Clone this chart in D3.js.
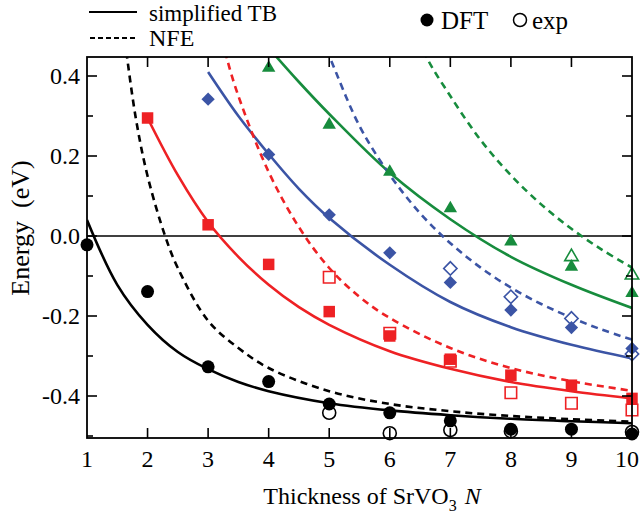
<!DOCTYPE html>
<html>
<head>
<meta charset="utf-8">
<script src="https://cdn.jsdelivr.net/npm/d3@7"></script>
<style>
  body { margin: 0; background: #fff; }
</style>
</head>
<body>
<div id="chart"></div>
<script>
// [N, energy in eV]

// DFT points (filled) and experiment (open)
let dftBlack = [[1, -0.022], [2, -0.139], [3, -0.327], [4, -0.364], [5, -0.42], [6, -0.442], [7, -0.462], [8, -0.483], [9, -0.483], [10, -0.495]]
let expBlack = [[5, -0.442], [6, -0.493], [7, -0.485], [8, -0.488], [10, -0.49]]
let dftRed = [[2, 0.295], [3, 0.028], [4, -0.071], [5, -0.189], [6, -0.25], [7, -0.308], [8, -0.348], [9, -0.373], [10, -0.406]]
let expRed = [[5, -0.103], [6, -0.243], [7, -0.313], [8, -0.392], [9, -0.418], [10, -0.435]]
let dftBlue = [[3, 0.342], [4, 0.204], [5, 0.053], [6, -0.042], [7, -0.116], [8, -0.185], [9, -0.229], [10, -0.281]]
let expBlue = [[7, -0.081], [8, -0.152], [9, -0.206], [10, -0.295]]
let dftGreen = [[4, 0.42], [5, 0.278], [6, 0.16], [7, 0.069], [8, -0.014], [9, -0.077], [10, -0.143]]
let expGreen = [[9, -0.052], [10, -0.098]]

// simplified TB curves (solid)
let tbBlack = [[1, 0.04], [1.5, -0.122], [2, -0.222], [2.5, -0.29], [3, -0.333], [3.5, -0.365], [4, -0.388], [5, -0.418], [6, -0.436], [7, -0.448], [8, -0.457], [9, -0.463], [10, -0.468]]
let tbRed = [[2, 0.295], [2.5, 0.152], [3, 0.035], [3.5, -0.052], [4, -0.122], [4.5, -0.178], [5, -0.222], [6, -0.288], [7, -0.332], [8, -0.365], [9, -0.388], [10, -0.406]]
let tbBlue = [[3, 0.41], [3.5, 0.3], [4, 0.205], [4.5, 0.118], [5, 0.045], [6, -0.072], [7, -0.165], [8, -0.228], [9, -0.272], [10, -0.306]]
let tbGreen = [[4, 0.47], [4.5, 0.385], [5, 0.305], [6, 0.158], [7, 0.042], [8, -0.052], [9, -0.122], [10, -0.18]]

// NFE curves (dashed)
let nfeBlack = [[1.6, 0.52], [1.8, 0.3], [2, 0.15], [2.29, 0.0], [2.5, -0.08], [3, -0.212], [3.5, -0.28], [4, -0.33], [5, -0.388], [6, -0.42], [7, -0.438], [8, -0.45], [9, -0.458], [10, -0.464]]
let nfeRed = [[3.2, 0.52], [3.3, 0.45], [3.5, 0.35], [4, 0.16], [4.5, 0.022], [5, -0.08], [5.5, -0.152], [6, -0.205], [7, -0.28], [8, -0.33], [9, -0.363], [10, -0.387]]
let nfeBlue = [[4.8, 0.52], [5, 0.45], [5.5, 0.275], [6, 0.153], [6.5, 0.057], [7, -0.018], [7.5, -0.079], [8, -0.129], [8.5, -0.17], [9, -0.204], [9.5, -0.234], [10, -0.259]]
let nfeGreen = [[6.45, 0.52], [6.6, 0.45], [7, 0.35], [7.5, 0.24], [8, 0.152], [8.5, 0.079], [9, 0.018], [9.5, -0.034], [10, -0.079]]

let xTicks = [1, 2, 3, 4, 5, 6, 7, 8, 9, 10]
let yMajor = [-0.4, -0.2, 0.0, 0.2, 0.4]
let yMinor = [-0.5, -0.3, -0.1, 0.1, 0.3]

let colors = { black: '#000000', red: '#ee2124', blue: '#3b54a5', green: '#178c3d' }
let serif = '"Liberation Serif", "DejaVu Serif", serif'

let width = 641
let height = 519
let plot = { left: 87, right: 632, top: 57, bottom: 438 }

let svg = d3
  .select('#chart')
  .append('svg')
  .attr('width', width)
  .attr('height', height)
  .style('font-family', serif)

let x = d3.scaleLinear().domain([1, 10]).range([plot.left, plot.right])
let y = d3.scaleLinear().domain([-0.505, 0.4475]).range([plot.bottom, plot.top])

svg
  .append('clipPath')
  .attr('id', 'clip')
  .append('rect')
  .attr('x', plot.left)
  .attr('y', plot.top)
  .attr('width', plot.right - plot.left)
  .attr('height', plot.bottom - plot.top)

// zero line
svg
  .append('line')
  .attr('x1', plot.left)
  .attr('x2', plot.right)
  .attr('y1', y(0))
  .attr('y2', y(0))
  .attr('stroke', '#000')
  .attr('stroke-width', 1.5)

let line = d3
  .line()
  .x(d => x(d[0]))
  .y(d => y(d[1]))
  .curve(d3.curveCatmullRom)

let curves = [
  [tbBlack, 'black', false], [tbRed, 'red', false], [tbBlue, 'blue', false], [tbGreen, 'green', false],
  [nfeBlack, 'black', true], [nfeRed, 'red', true], [nfeBlue, 'blue', true], [nfeGreen, 'green', true]
]

let curveG = svg.append('g').attr('clip-path', 'url(#clip)')
curves.forEach(([data, c, dashed]) => {
  curveG
    .append('path')
    .datum(data)
    .attr('d', line)
    .attr('fill', 'none')
    .attr('stroke', colors[c])
    .attr('stroke-width', 2.6)
    .attr('stroke-dasharray', dashed ? '7,5' : null)
})

// marker shapes
let circle = d3.symbol().type(d3.symbolCircle).size(Math.PI * 6.5 * 6.5)
let square = d3.symbol().type(d3.symbolSquare).size(11.5 * 11.5)
let diamond = d3.symbol().type(d3.symbolSquare).size(9.4 * 9.4)
let triangle = d3.symbol().type(d3.symbolTriangle).size(78)

let markerSets = [
  [expBlack, 'black', circle, true, 0],
  [expRed, 'red', square, true, 0],
  [expBlue, 'blue', diamond, true, 45],
  [expGreen, 'green', triangle, true, 0],
  [dftBlack, 'black', circle, false, 0],
  [dftRed, 'red', square, false, 0],
  [dftBlue, 'blue', diamond, false, 45],
  [dftGreen, 'green', triangle, false, 0]
]

markerSets.forEach(([data, c, shape, open, rot]) => {
  svg
    .append('g')
    .selectAll('path')
    .data(data)
    .enter()
    .append('path')
    .attr('d', shape)
    .attr('transform', d => 'translate(' + x(d[0]) + ',' + y(d[1]) + ') rotate(' + rot + ')')
    .attr('fill', open ? '#fff' : colors[c])
    .attr('stroke', open ? colors[c] : 'none')
    .attr('stroke-width', 1.6)
})

// frame + inward ticks
svg
  .append('rect')
  .attr('x', plot.left)
  .attr('y', plot.top)
  .attr('width', plot.right - plot.left)
  .attr('height', plot.bottom - plot.top)
  .attr('fill', 'none')
  .attr('stroke', '#000')
  .attr('stroke-width', 1.8)

let ticks = svg.append('g').attr('stroke', '#000').attr('stroke-width', 1.6)
xTicks.slice(1, -1).forEach(t => {
  ticks.append('line').attr('x1', x(t)).attr('x2', x(t)).attr('y1', plot.bottom).attr('y2', plot.bottom - 10)
  ticks.append('line').attr('x1', x(t)).attr('x2', x(t)).attr('y1', plot.top).attr('y2', plot.top + 10)
})
yMajor.concat(yMinor).forEach(t => {
  let len = yMajor.includes(t) ? 10 : 6
  ticks.append('line').attr('x1', plot.left).attr('x2', plot.left + len).attr('y1', y(t)).attr('y2', y(t))
  ticks.append('line').attr('x1', plot.right).attr('x2', plot.right - len).attr('y1', y(t)).attr('y2', y(t))
})

// tick labels
svg
  .selectAll('.xlab')
  .data(xTicks)
  .enter()
  .append('text')
  .attr('class', 'xlab')
  .attr('x', d => (d === 10 ? x(d) - 5 : x(d)))
  .attr('y', 467)
  .attr('text-anchor', 'middle')
  .attr('font-size', 24)
  .style('font-family', serif)
  .text(d => d)

svg
  .selectAll('.ylab')
  .data(yMajor)
  .enter()
  .append('text')
  .attr('class', 'ylab')
  .attr('x', 80)
  .attr('y', d => y(d) + 8)
  .attr('text-anchor', 'end')
  .attr('font-size', 24)
  .style('font-family', serif)
  .text(d => d3.format('.1f')(d).replace('−', '-'))

// axis titles
let xt = svg
  .append('text')
  .attr('x', 372)
  .attr('y', 504)
  .attr('text-anchor', 'middle')
  .attr('font-size', 24)
  .style('font-family', serif)
xt.append('tspan').text('Thickness of SrVO')
xt.append('tspan').attr('font-size', 16).attr('dy', 7).text('3')
xt.append('tspan').attr('dy', -7).attr('dx', 8).attr('font-style', 'italic').text('N')

svg
  .append('text')
  .attr('transform', 'translate(29,228) rotate(-90)')
  .attr('text-anchor', 'middle')
  .attr('font-size', 26)
  .style('font-family', serif)
  .style('white-space', 'pre')
  .text('Energy  (eV)')

// legend
svg.append('line').attr('x1', 89).attr('x2', 137).attr('y1', 12).attr('y2', 12).attr('stroke', '#000').attr('stroke-width', 2.2)
svg.append('line').attr('x1', 90).attr('x2', 137).attr('y1', 38).attr('y2', 38).attr('stroke', '#000').attr('stroke-width', 2.2).attr('stroke-dasharray', '5,3')
svg.append('text').attr('x', 149).attr('y', 21).attr('font-size', 23).style('font-family', serif).text('simplified TB')
svg.append('text').attr('x', 149).attr('y', 46).attr('font-size', 24).style('font-family', serif).text('NFE')

svg.append('path').attr('d', circle).attr('transform', 'translate(427,20)').attr('fill', '#000')
svg.append('text').attr('x', 441).attr('y', 29).attr('font-size', 25).style('font-family', serif).text('DFT')
svg.append('path').attr('d', circle).attr('transform', 'translate(520,20)').attr('fill', '#fff').attr('stroke', '#000').attr('stroke-width', 1.5)
svg.append('text').attr('x', 532).attr('y', 29).attr('font-size', 25).style('font-family', serif).text('exp')
</script>
</body>
</html>
